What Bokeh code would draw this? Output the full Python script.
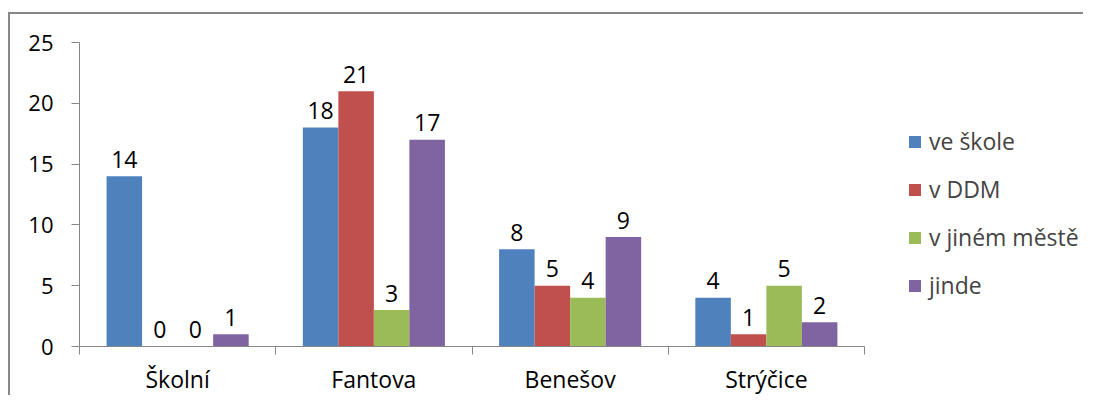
from bokeh.plotting import figure
from bokeh.models import Range1d, FixedTicker, Legend, LegendItem, ColumnDataSource
from bokeh.core.properties import value
from bokeh.embed import file_html
from bokeh.resources import INLINE

categories = ["Školní", "Fantova", "Benešov", "Strýčice"]
series_names = ["ve škole", "v DDM", "v jiném městě", "jinde"]
ve_skole = [14, 18, 8, 4]
v_ddm = [0, 21, 5, 1]
v_jinem_meste = [0, 3, 4, 5]
jinde = [1, 17, 9, 2]
y_ticks = [0, 5, 10, 15, 20, 25]

series = [ve_skole, v_ddm, v_jinem_meste, jinde]
colors = ["#4F81BD", "#C0504D", "#9BBB59", "#8064A2"]

FONT = "Open Sans"
bar_w = 0.181

W, H = 1075, 383
ML, MT, MB = 69, 28, 51
group_px = 785  # pixel width of the category area
n = len(categories)
x_end = n * (W - ML) / group_px

p = figure(width=W, height=H, output_backend="svg", toolbar_location=None,
           x_range=Range1d(0, x_end), y_range=Range1d(0, 25),
           min_border_left=ML, min_border_right=0, min_border_top=MT, min_border_bottom=MB)
p.styles = {"margin-top": "12px", "margin-left": "8px",
            "border-top": "2px solid #878787", "border-left": "2px solid #878787"}
p.outline_line_color = None
p.xgrid.visible = False
p.ygrid.visible = False
p.background_fill_color = "white"
p.border_fill_color = "white"

items = []
for j, (name, vals, col) in enumerate(zip(series_names, series, colors)):
    xs = [i + 0.5 + (j - 1.5) * bar_w for i in range(n)]
    src = ColumnDataSource(dict(x=xs, top=vals, label=[str(v) for v in vals]))
    r = p.vbar(x="x", top="top", width=bar_w, source=src, fill_color=col, line_color=None)
    p.text(x="x", y="top", text="label", source=src, text_align="center",
           text_baseline="alphabetic", y_offset=-17, text_font=value(FONT),
           text_font_size="23px", text_color="black")
    items.append(LegendItem(label=name, renderers=[r]))

# y axis
ya = p.yaxis[0]
ya.ticker = FixedTicker(ticks=y_ticks)
ya.axis_line_color = "#868686"
ya.major_tick_line_color = "#868686"
ya.major_tick_in = 0
ya.major_tick_out = 8
ya.minor_tick_line_color = None
ya.major_label_standoff = 18
ya.major_label_text_font = FONT
ya.major_label_text_font_size = "22px"
ya.major_label_text_color = "black"

# x axis: labels at category centres, boundary ticks as minor ticks
xa = p.xaxis[0]
centres = [i + 0.5 for i in range(n)]
bounds = [i for i in range(n + 1)]
xa.bounds = (0, n)
xa.ticker = FixedTicker(ticks=centres, minor_ticks=bounds)
xa.major_label_overrides = {c: lab for c, lab in zip(centres, categories)}
xa.axis_line_color = "#868686"
xa.major_tick_line_color = None
xa.major_tick_in = 0
xa.major_tick_out = 0
xa.minor_tick_line_color = "#868686"
xa.minor_tick_in = 0
xa.minor_tick_out = 8
xa.major_label_standoff = 8
xa.major_label_text_font = FONT
xa.major_label_text_font_size = "23px"
xa.major_label_text_color = "black"

legend = Legend(items=items, location=(828, 45), border_line_color=None,
                background_fill_alpha=0, padding=0, margin=0,
                glyph_width=15, glyph_height=15, label_standoff=7,
                label_text_font=FONT, label_text_font_size="23px",
                label_height=32, spacing=16)
p.add_layout(legend, "center")

open("out.html", "w").write(file_html(p, INLINE))
